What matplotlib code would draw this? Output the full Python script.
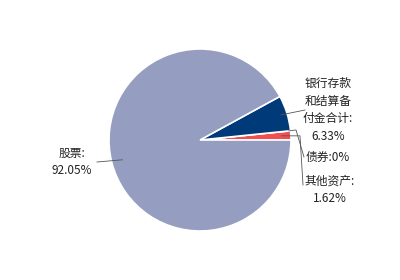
import numpy as np
import matplotlib
matplotlib.use("Agg")
import matplotlib.pyplot as plt

plt.rcParams['font.family'] = ['Noto Sans CJK SC', 'DejaVu Sans']

# Asset allocation (percent of total), drawn counter-clockwise from 3 o'clock
categories = ["其他资产", "债券", "银行存款和结算备付金合计", "股票"]
values = [1.62, 0.0, 6.33, 92.05]
labels = ["其他资产:\n1.62%", "债券:0%", "银行存款\n和结算备\n付金合计:\n6.33%", "股票:\n92.05%"]
colors = ["#F05050", "#7CB5EC", "#003A78", "#959DC0"]

W, H = 400, 280
fig = plt.figure(figsize=(W / 100, H / 100), dpi=100)
ax = fig.add_axes([0, 0, 1, 1])

cx, cy, r = 200, 140, 91
# pie draws in y-up space; flip the angle direction so the screen result is counter-clockwise
wedges, _ = ax.pie(values, colors=colors, startangle=0, counterclock=False,
                   center=(cx, cy), radius=r, frame=True,
                   wedgeprops=dict(edgecolor='white', linewidth=1.2))
ax.set_xlim(0, W)
ax.set_ylim(H, 0)
ax.set_aspect('equal')
ax.axis('off')

def edge_point(w, frac=0.95):
    ang = np.deg2rad((w.theta1 + w.theta2) / 2)
    return cx + frac * r * np.cos(ang), cy + frac * r * np.sin(ang)

line_kw = dict(color='#555555', lw=0.6)
txt_kw = dict(fontsize=8.5, color='#222222', linespacing=1.45)

# stocks
x0, y0 = edge_point(wedges[3], 0.88)
ax.plot([97, x0], [162, y0], **line_kw)
ax.text(72, 162, labels[3], ha='center', va='center', **txt_kw)

# bank deposits
x0, y0 = edge_point(wedges[2], 0.93)
ax.plot([x0, 305], [y0, 110], **line_kw)
ax.text(328, 110, labels[2], ha='center', va='center', **txt_kw)

# bonds
x0, y0 = edge_point(wedges[1], 0.98)
ax.plot([x0, 296, 304], [y0, y0 - 1, 157], **line_kw)
ax.text(306, 157, labels[1], ha='left', va='center', **txt_kw)

# other assets
x0, y0 = edge_point(wedges[0], 0.90)
ax.plot([x0, 300, 303], [y0, y0, 185], **line_kw)
ax.text(330, 190, labels[0], ha='center', va='center', **txt_kw)

fig.savefig("out.png", dpi=100)
